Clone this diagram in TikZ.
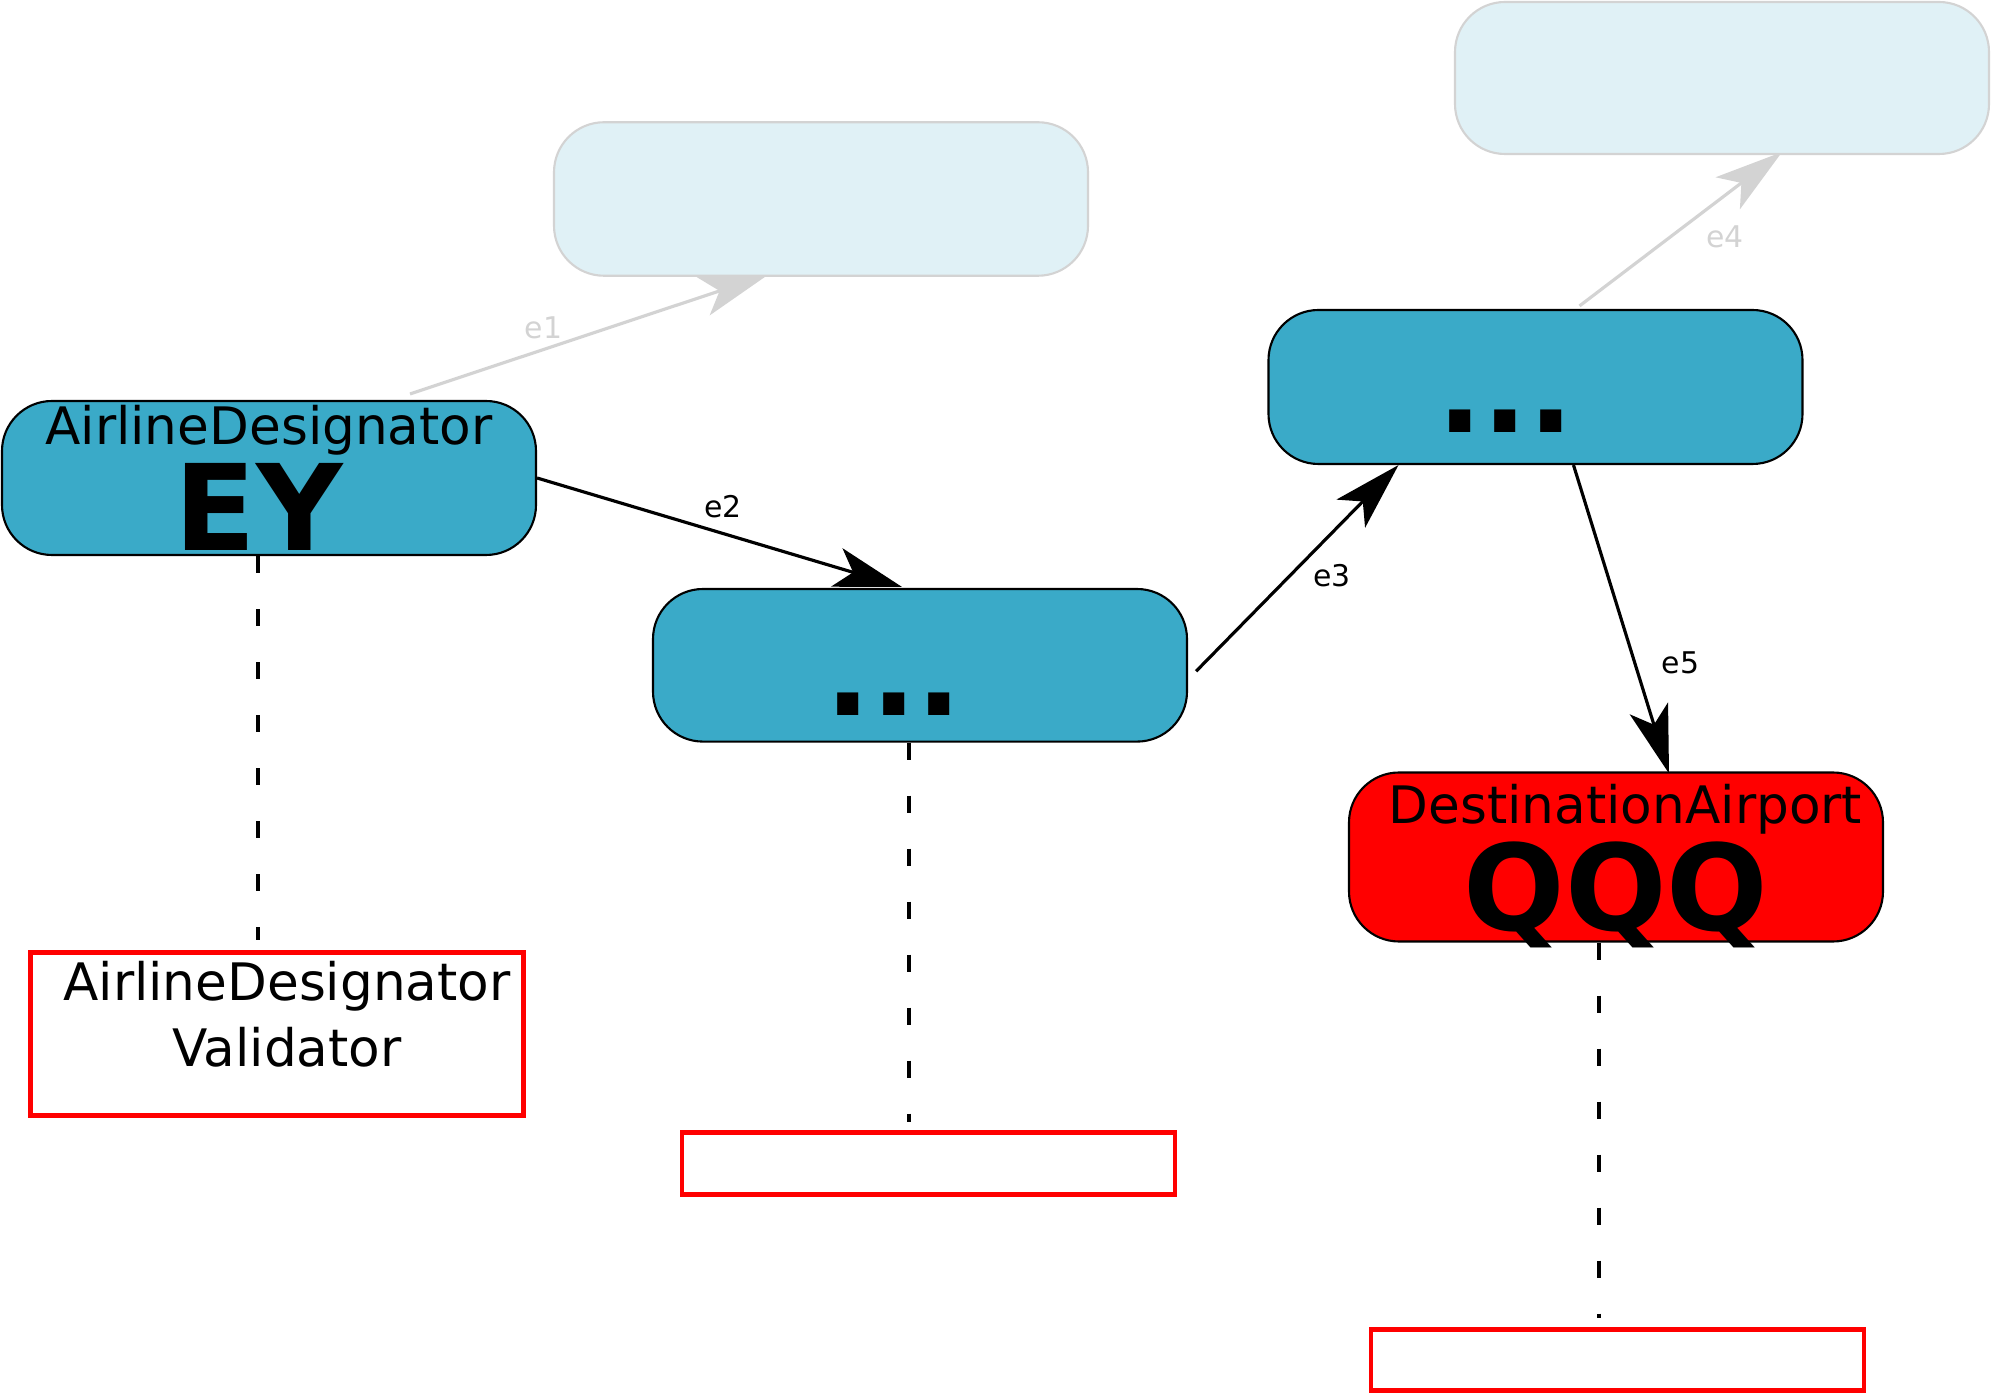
\documentclass[tikz,border=0pt]{standalone}
\usepackage{fontspec}
\setmainfont{DejaVu Sans}
\usetikzlibrary{arrows.meta,backgrounds}

\definecolor{nodeblue}{RGB}{58,170,200}
\definecolor{paleblue}{RGB}{224,241,246}
\definecolor{fadegray}{RGB}{211,211,211}
\newcommand{\valuefont}{\fontsize{34pt}{40pt}\selectfont\bfseries}

\begin{document}
\begin{tikzpicture}
    \tikzstyle{token} = [shape=rectangle, rounded corners=0.5cm, draw=black, line width=0.6pt, fill=nodeblue, minimum width=5.34cm, minimum height=1.54cm, inner sep=0pt, align=center, font=\fontsize{14.7pt}{17pt}\selectfont]
    \tikzstyle{ghost} = [token, draw=fadegray, fill=paleblue]
    \tikzstyle{target} = [token, fill=red, minimum height=1.69cm]
    \tikzstyle{checker} = [shape=rectangle, draw=red, line width=1.4pt, minimum width=4.93cm, inner sep=0pt, align=center, font=\fontsize{14.7pt}{18.7pt}\selectfont]
    \tikzstyle{flow} = [draw=black, line width=0.9pt, -{Stealth[length=0.68cm, width=0.40cm, inset=0.17cm]}]
    \tikzstyle{fadeflow} = [flow, draw=fadegray]
    \tikzstyle{link} = [draw=black, line width=1pt, dash pattern=on 0.17cm off 0.36cm]
    \tikzstyle{tag} = [font=\fontsize{8.5pt}{10pt}\selectfont, inner sep=0pt]

    \useasboundingbox (0,0) rectangle (19.91,-13.95);

    % token nodes
    \path   (2.69, -4.78) node [token, name=a1] {AirlineDesignator\\[0.04cm]{\valuefont EY\hspace*{0.2cm}}}
            (9.20, -6.653) node [token, name=a2, minimum height=1.526cm] {\raisebox{0pt}[1cm][0pt]{\valuefont ...\hspace*{0.52cm}}}
            (15.355, -3.87) node [token, name=a3] {\raisebox{0pt}[0.91cm][0pt]{\valuefont ...\hspace*{0.6cm}}}
            (16.16, -8.57) node [target, name=a4] {\hspace*{0.19cm}DestinationAirport\\[0.04cm]{\valuefont \raisebox{0pt}[\height][0pt]{QQQ}}}
            (8.21, -1.99) node [ghost, name=g1, minimum height=1.535cm] {}
            (17.22, -0.78) node [ghost, name=g2, minimum height=1.52cm] {};

    % validator boxes
    \path   (2.77, -10.34) node [checker, name=v1, minimum height=1.63cm] {\hspace*{0.2cm}AirlineDesignator\\\hspace*{0.2cm}\raisebox{0pt}[\height][0.4cm]{Validator}}
            (9.285, -11.635) node [checker, name=v2, minimum height=0.62cm] {}
            (16.175, -13.60) node [checker, name=v3, minimum height=0.61cm] {};

    % dashed links
    \draw [link, shorten >=0.1cm] ([xshift=-0.11cm]a1.south) coordinate (d1) -- (d1 |- v1.north);
    \draw [link, shorten >=0.08cm] ([xshift=-0.11cm]a2.south) coordinate (d2) -- (d2 |- v2.north);
    \draw [link, shorten >=0.09cm] ([xshift=-0.17cm]a4.south) coordinate (d3) -- (d3 |- v3.north);

    % edges
    \begin{scope}[on background layer]
        \draw [fadeflow] ([xshift=1.41cm, yshift=0.06cm]a1.north) -- ([xshift=-0.53cm, yshift=0.02cm]g1.south)
            node [tag, text=fadegray, pos=0.391, xshift=-0.066cm, yshift=0.192cm, name=t1] {e1};
        \draw [flow] (a1.east) -- ([xshift=-0.18cm, yshift=0.01cm]a2.north)
            node [tag, pos=0.489, xshift=0.074cm, yshift=0.248cm, name=t2] {e2};
        \draw [flow] ([xshift=0.08cm, yshift=-0.06cm]a2.east) -- ([xshift=-1.37cm]a3.south)
            node [tag, pos=0.566, xshift=0.211cm, yshift=-0.206cm, name=t3] {e3};
        \draw [fadeflow] ([xshift=0.44cm, yshift=0.03cm]a3.north) -- ([xshift=0.6cm, yshift=0.03cm]g2.south)
            node [tag, text=fadegray, pos=0.619, xshift=0.199cm, yshift=-0.259cm, name=t4] {e4};
        \draw [flow] ([xshift=0.38cm]a3.south) -- ([xshift=0.53cm, yshift=-0.02cm]a4.north)
            node [tag, pos=0.683, xshift=0.417cm, yshift=0.128cm, name=t5] {e5};
    \end{scope}
\end{tikzpicture}
\end{document}
